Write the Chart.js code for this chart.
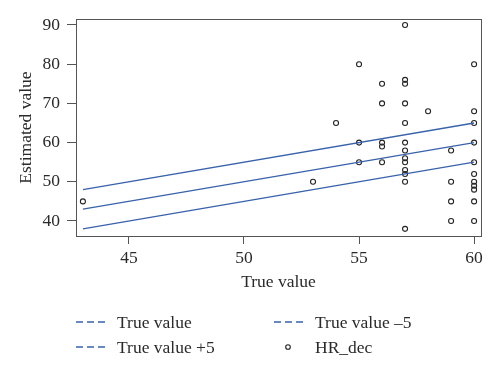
<!DOCTYPE html>
<html>
<head>
<meta charset="utf-8">
<script src="https://cdn.jsdelivr.net/npm/chart.js"></script>
<style>
  body { margin: 0; background: #fff; }
  #wrap { position: relative; width: 500px; height: 373px; }
  #legend { position: absolute; left: 75px; top: 310px; width: 420px;
            font-family: "Liberation Serif", serif; font-size: 17.5px; color: #2a2a2a; }
  .item { position: absolute; white-space: nowrap; line-height: 24px; }
  .item svg { position: absolute; left: 0; top: 7px; }
  .item span { position: absolute; left: 42px; top: 0; }
</style>
</head>
<body>
<div id="wrap">
  <canvas id="grafico" width="500" height="373"></canvas>
  <div id="legend"></div>
</div>
<script>
// linhas de referencia
var lineX = [43, 60];
var trueValue = [43, 60];
var plusFive = [48, 65];
var minusFive = [38, 55];

// pontos HR_dec
var hrX = [43, 53, 54, 55, 55, 55, 56, 56, 56, 56, 56,
           57, 57, 57, 57, 57, 57, 57, 57, 57, 57, 57, 57, 57,
           58, 59, 59, 59, 59,
           60, 60, 60, 60, 60, 60, 60, 60, 60, 60, 60];
var hrY = [45, 50, 65, 80, 60, 55, 75, 70, 60, 59, 55,
           90, 76, 75, 70, 65, 60, 58, 56, 55, 53, 52, 50, 38,
           68, 58, 50, 45, 40,
           80, 68, 65, 60, 55, 52, 50, 49, 48, 45, 40];

var xTicks = [45, 50, 55, 60];
var yTicks = [40, 50, 60, 70, 80, 90];

var azul = '#3862ab';
var fonte = { family: 'Liberation Serif', size: 17.5 };

function pares(xs, ys) {
    return xs.map(function (x, i) { return { x: x, y: ys[i] }; });
}

// moldura completa do grafico
var moldura = {
    id: 'moldura',
    afterDraw: function (chart) {
        var a = chart.chartArea, c = chart.ctx;
        c.save();
        c.strokeStyle = '#555';
        c.lineWidth = 1;
        c.strokeRect(Math.round(a.left) + 0.5, Math.round(a.top) + 0.5,
                     Math.round(a.right - a.left), Math.round(a.bottom - a.top));
        c.restore();
    }
};

var ctx = document.getElementById('grafico').getContext('2d');
var chart = new Chart(ctx, {
    type: 'scatter',
    data: {
        datasets: [{
            label: 'True value',
            type: 'line',
            data: pares(lineX, trueValue),
            borderColor: azul, borderWidth: 1.3, pointRadius: 0, fill: false
        }, {
            label: 'True value \u20135',
            type: 'line',
            data: pares(lineX, minusFive),
            borderColor: azul, borderWidth: 1.3, pointRadius: 0, fill: false
        }, {
            label: 'True value +5',
            type: 'line',
            data: pares(lineX, plusFive),
            borderColor: azul, borderWidth: 1.3, pointRadius: 0, fill: false
        }, {
            label: 'HR_dec',
            data: pares(hrX, hrY),
            pointRadius: 2.5, pointBorderWidth: 1.1,
            pointBorderColor: '#222', pointBackgroundColor: 'rgba(0,0,0,0)'
        }]
    },
    options: {
        responsive: false,
        animation: false,
        layout: { padding: { left: 0, top: 19, right: 19, bottom: 70 } },
        plugins: { legend: { display: false }, tooltip: { enabled: false } },
        scales: {
            x: {
                type: 'linear', min: 42.7, max: 60.3,
                afterBuildTicks: function (s) { s.ticks = xTicks.map(function (v) { return { value: v }; }); },
                afterFit: function (s) { s.height = 67; },
                grid: { drawOnChartArea: false, drawTicks: true, tickLength: 8, color: '#555' },
                border: { display: false },
                ticks: { font: fonte, color: '#2a2a2a', padding: 4, maxRotation: 0 },
                title: { display: true, text: 'True value', font: fonte, color: '#2a2a2a', padding: { top: 0, bottom: 10 } }
            },
            y: {
                type: 'linear', min: 36.17, max: 91.53,
                afterBuildTicks: function (s) { s.ticks = yTicks.map(function (v) { return { value: v }; }); },
                afterFit: function (s) { s.width = 76; },
                grid: { drawOnChartArea: false, drawTicks: true, tickLength: 9, color: '#555' },
                border: { display: false },
                ticks: { font: fonte, color: '#2a2a2a', padding: 7 },
                title: { display: true, text: 'Estimated value', font: fonte, color: '#2a2a2a', padding: { top: 16, bottom: 0 } }
            }
        }
    },
    plugins: [moldura]
});

// legenda em html, 2 colunas
var posicoes = [[0, 0], [198, 0], [0, 25], [198, 25]];
var legenda = document.getElementById('legend');
chart.data.datasets.forEach(function (ds, i) {
    var div = document.createElement('div');
    div.className = 'item';
    div.style.left = posicoes[i][0] + 'px';
    div.style.top = posicoes[i][1] + 'px';
    var marca;
    if (ds.type === 'line') {
        marca = '<svg width="34" height="10"><line x1="1" y1="5" x2="33" y2="5" stroke="' + azul +
                '" stroke-width="1.3" stroke-dasharray="7,4"/></svg>';
    } else {
        marca = '<svg width="34" height="10"><circle cx="15" cy="5" r="2.3" fill="none" stroke="#222" stroke-width="1.1"/></svg>';
    }
    div.innerHTML = marca + '<span>' + ds.label + '</span>';
    legenda.appendChild(div);
});
</script>
</body>
</html>
